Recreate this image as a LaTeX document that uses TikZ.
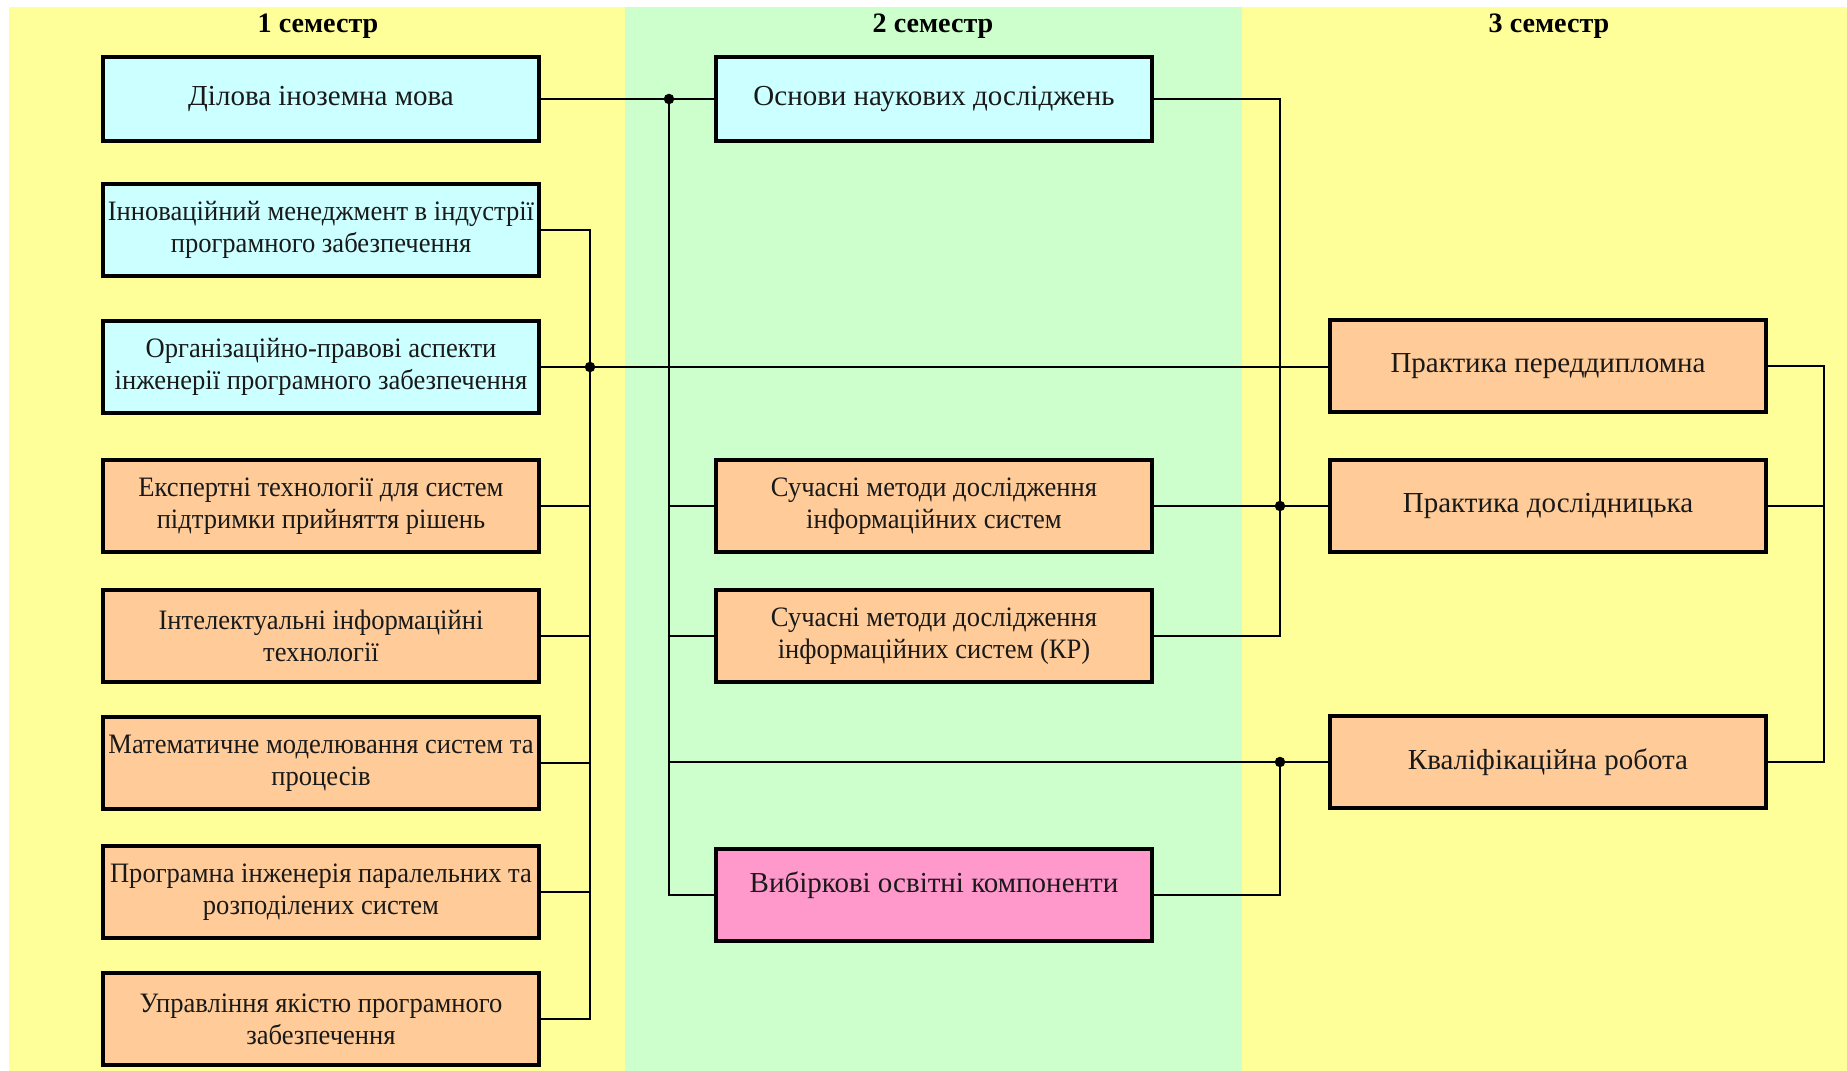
\documentclass[tikz,border=0pt]{standalone}
\usepackage{fontspec}
\setmainfont{Liberation Serif}
\newfontfamily\narrowserif{Liberation Serif}[FakeStretch=0.945]
\usepackage{xcolor}
\usepackage{tikz}
\definecolor{bgyellow}{HTML}{FFFF99}
\definecolor{bggreen}{HTML}{CCFFCC}
\definecolor{boxcyan}{HTML}{CCFFFF}
\definecolor{boxorange}{HTML}{FFCC99}
\definecolor{boxpink}{HTML}{FF99CC}
\begin{document}
\begin{tikzpicture}[x=0.02cm,y=-0.02cm,line width=1.1pt,
		course/.style={draw,line width=2.3pt,minimum width=8.74cm,minimum height=1.84cm,align=center,inner sep=1pt,text=black!90,font=\narrowserif\fontsize{16}{18.2}\selectfont},
		oneline/.style={font=\fontsize{16.5}{18.2}\selectfont},
		term/.style={font=\fontsize{16}{18}\selectfont\bfseries},
		dot/.style={circle,fill,inner sep=0pt,minimum size=0.21cm}]
			\useasboundingbox (0,0) rectangle (1847,1071);
			\fill[white] (0,0) rectangle (1847,1071);
			\fill[bgyellow] (9,7) rectangle (625,1071);
			\fill[bggreen] (625,7) rectangle (1242,1071);
			\fill[bgyellow] (1242,7) rectangle (1847,1071);
			\node[term] (sem1) at (318,26) {1 семестр};
			\node[term] (sem2) at (933,26) {2 семестр};
			\node[term] (sem3) at (1549,26) {3 семестр};
			\node[course,oneline,fill=boxcyan,minimum height=1.68cm] (l1) at (321,99) {Ділова іноземна мова};
			\node[course,fill=boxcyan] (l2) at (321,230) {Інноваційний менеджмент в індустрії\\програмного забезпечення};
			\node[course,fill=boxcyan] (l3) at (321,367) {Організаційно-правові аспекти\\інженерії програмного забезпечення};
			\node[course,fill=boxorange] (l4) at (321,506) {Експертні технології для систем\\підтримки прийняття рішень};
			\node[course,fill=boxorange] (l5) at (321,636) {Інтелектуальні інформаційні\\технології};
			\node[course,fill=boxorange] (l6) at (321,763) {Математичне моделювання систем та\\процесів};
			\node[course,fill=boxorange] (l7) at (321,892) {Програмна інженерія паралельних та\\розподілених систем};
			\node[course,fill=boxorange] (l8) at (321,1019) {Управління якістю програмного\\забезпечення};
			\node[course,oneline,fill=boxcyan,minimum height=1.68cm] (m1) at (934,99) {Основи наукових досліджень};
			\node[course,fill=boxorange] (m2) at (934,506) {Сучасні методи дослідження\\інформаційних систем};
			\node[course,fill=boxorange] (m3) at (934,636) {Сучасні методи дослідження\\інформаційних систем (КР)};
			\node[course,oneline,fill=boxpink] (m4) at (934,895) {Вибіркові освітні компоненти\\[-4pt]\mbox{}};
			\node[course,oneline,fill=boxorange] (r1) at (1548,366) {Практика переддипломна};
			\node[course,oneline,fill=boxorange] (r2) at (1548,506) {Практика дослідницька};
			\node[course,oneline,fill=boxorange] (r3) at (1548,762) {Кваліфікаційна робота};
			\coordinate (d1) at (669,99);
			\coordinate (d2) at (590,367);
			\coordinate (d3) at (1280,506);
			\coordinate (d4) at (1280,762);
			\coordinate (rb) at (1824,367);
			\draw (l1) -- (m1);
			\draw (d1) -- (d1 |- m4) -- (m4.west);
			\draw (d1 |- m2) -- (m2.west);
			\draw (d1 |- m3) -- (m3.west);
			\draw (d1 |- r3) -- (r3.west);
			\draw (l2.east) -- (l2.east -| d2) -- (l8.east -| d2) -- (l8.east);
			\foreach \k in {4,...,7}
				\draw (l\k.east) -- (l\k.east -| d2);
			\draw (l3.east) -- (l3.east -| r1.west);
			\draw (m1.east) -- (m1.east -| d3) -- (m3.east -| d3) -- (m3.east);
			\draw (m2) -- (r2);
			\draw (m4.east) -- (m4.east -| d4) -- (d4);
			\draw (r1.east) -- (r1.east -| rb) -- (r3.east -| rb) -- (r3.east);
			\draw (r2.east) -- (r2.east -| rb);
			\node[dot] at (d1) {};
			\node[dot] at (d2) {};
			\node[dot] at (d3) {};
			\node[dot] at (d4) {};
		\end{tikzpicture}
\end{document}
